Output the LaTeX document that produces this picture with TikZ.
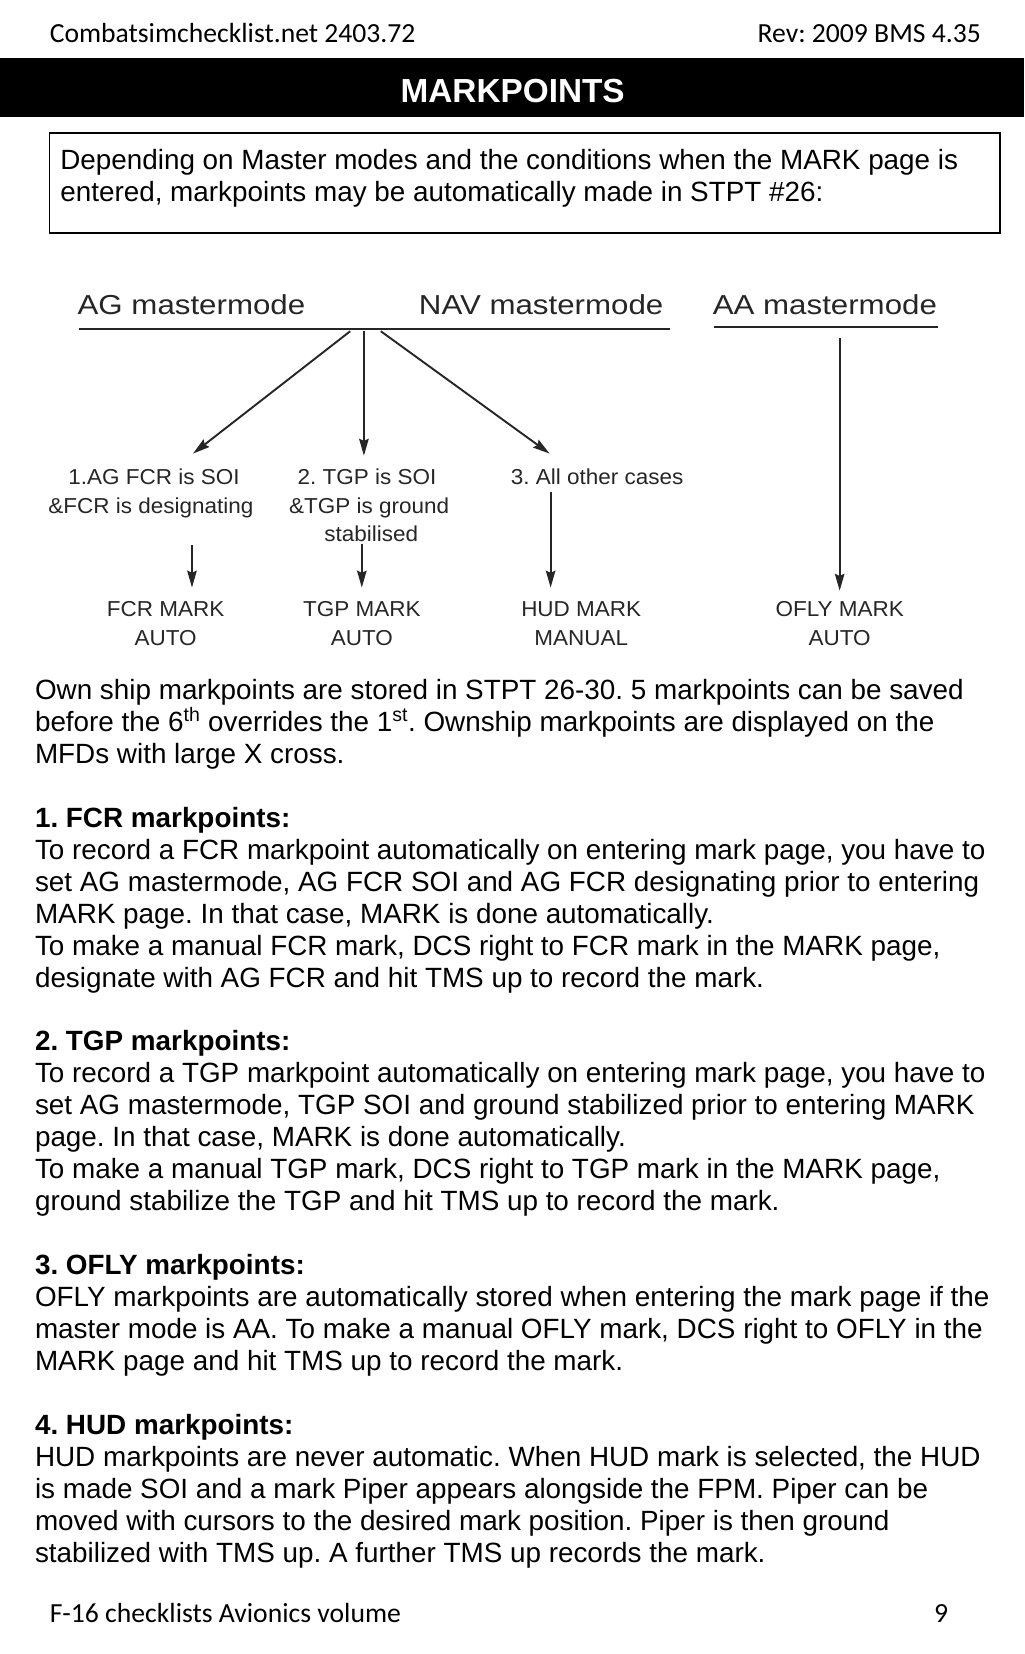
\documentclass[tikz,border=0pt]{standalone}
\usepackage{fontspec}
\setmainfont{Liberation Sans}
\newfontfamily\calfont{Carlito}
\newfontfamily\dgfont[FakeStretch=1.04]{Liberation Sans}
\newfontfamily\mmfont[FakeStretch=1.14]{Liberation Sans}
\usetikzlibrary{arrows.meta}
\definecolor{dgray}{HTML}{262626}
\frenchspacing
\begin{document}
\begin{tikzpicture}[x=1pt,y=-1pt,
  body/.style={anchor=base west, inner sep=0pt, font=\fontsize{26.4}{30}\selectfont},
  hd/.style={inner sep=0pt, font=\calfont\fontsize{26.2}{28}\selectfont},
  dg/.style={anchor=base, inner sep=0pt, text=dgray, font=\dgfont\fontsize{20.5}{26}\selectfont},
  mm/.style={anchor=base, inner sep=0pt, text=dgray, font=\mmfont\fontsize{26}{30}\selectfont},
  arr/.style={draw=dgray, line width=1.8pt, -{Stealth[length=16pt,width=9pt,inset=2pt]}},
  uline/.style={draw=dgray, line width=2.6pt}]
\useasboundingbox (0,0) rectangle (971,1568);
\fill[white] (0,0) rectangle (971,1568);

% header
\node[hd, anchor=base west] (hl) at (47,40) {Combatsimchecklist.net 2403.72};
\node[hd, anchor=base east] (hr) at (930,40) {Rev: 2009 BMS 4.35};
\fill[black] (0,55) rectangle (971,111);
\node[anchor=base, inner sep=0pt, text=white, font=\bfseries\fontsize{31.6}{32}\selectfont] (title) at (486,97) {MARKPOINTS};

% intro box
\draw[line width=1.5pt] (47,126) rectangle (948,221);
\node[body] (b1) at (57,161) {Depending on Master modes and the conditions when the MARK page is};
\node[body] (b2) at (57,191) {entered, markpoints may be automatically made in STPT \#26:};

% diagram
\node[mm] (ag) at (181.5,298) {AG mastermode};
\node[mm] (nav) at (513,298) {NAV mastermode};
\node[mm] (aa) at (782,298) {AA mastermode};
\coordinate (u1a) at (75,312);
\coordinate (u1b) at (635,312);
\coordinate (u2a) at (677,310);
\coordinate (u2b) at (889,310);
\draw[uline] (u1a) -- (u1b);
\draw[uline] (u2a) -- (u2b);

\coordinate (h1) at (332,314);
\coordinate (h2) at (345,314);
\coordinate (h3) at (361,314);
\coordinate (h4) at (796,320);
\coordinate (t1) at (183,430);
\coordinate (t2) at (345,432);
\coordinate (t3) at (521,430);
\coordinate (t4) at (796,560);

\node[dg] (c1a) at (146,459) {1.AG FCR is SOI};
\node[dg] (c1b) at (143,486.5) {\&FCR is designating};
\node[dg] (c2a) at (348,459) {2. TGP is SOI};
\node[dg] (c2b) at (350,486.5) {\&TGP is ground};
\node[dg] (c2c) at (352,513.5) {stabilised};
\node[dg] (c3a) at (566,459) {3. All other cases};

\coordinate (s1) at (182,517);
\coordinate (e1) at (182,557);
\coordinate (s2) at (343,516);
\coordinate (e2) at (343,557);
\coordinate (s3) at (522,466);
\coordinate (e3) at (522,557);

\node[dg] (m1) at (157,584) {FCR MARK};
\node[dg] (a1) at (157,612) {AUTO};
\node[dg] (m2) at (343,584) {TGP MARK};
\node[dg] (a2) at (343,612) {AUTO};
\node[dg] (m3) at (551,584) {HUD MARK};
\node[dg] (a3) at (551,612) {MANUAL};
\node[dg] (m4) at (796,584) {OFLY MARK};
\node[dg] (a4) at (796,612) {AUTO};

\draw[arr] (h1) -- (t1);
\draw[arr] (h2) -- (t2);
\draw[arr] (h3) -- (t3);
\draw[arr] (h4) -- (t4);
\draw[arr] (s1) -- (e1);
\draw[arr] (s2) -- (e2);
\draw[arr] (s3) -- (e3);

% body text
\node[body] (l0) at (33,663.0) {Own ship markpoints are stored in STPT 26-30. 5 markpoints can be saved};
\node[body] (l1) at (33,693.3) {before the 6\textsuperscript{th} overrides the 1\textsuperscript{st}. Ownship markpoints are displayed on the};
\node[body] (l2) at (33,723.6) {MFDs with large X cross.};
\node[body] (l4) at (33,784.2) {\bfseries 1. FCR markpoints:};
\node[body] (l5) at (33,814.5) {To record a FCR markpoint automatically on entering mark page, you have to};
\node[body] (l6) at (33,844.8) {set AG mastermode, AG FCR SOI and AG FCR designating prior to entering};
\node[body] (l7) at (33,875.1) {MARK page. In that case, MARK is done automatically.};
\node[body] (l8) at (33,905.4) {To make a manual FCR mark, DCS right to FCR mark in the MARK page,};
\node[body] (l9) at (33,935.7) {designate with AG FCR and hit TMS up to record the mark.};
\node[body] (l11) at (33,996.3) {\bfseries 2. TGP markpoints:};
\node[body] (l12) at (33,1026.6) {To record a TGP markpoint automatically on entering mark page, you have to};
\node[body] (l13) at (33,1056.9) {set AG mastermode, TGP SOI and ground stabilized prior to entering MARK};
\node[body] (l14) at (33,1087.2) {page. In that case, MARK is done automatically.};
\node[body] (l15) at (33,1117.5) {To make a manual TGP mark, DCS right to TGP mark in the MARK page,};
\node[body] (l16) at (33,1147.8) {ground stabilize the TGP and hit TMS up to record the mark.};
\node[body] (l18) at (33,1208.4) {\bfseries 3. OFLY markpoints:};
\node[body] (l19) at (33,1238.7) {OFLY markpoints are automatically stored when entering the mark page if the};
\node[body] (l20) at (33,1269.0) {master mode is AA. To make a manual OFLY mark, DCS right to OFLY in the};
\node[body] (l21) at (33,1299.3) {MARK page and hit TMS up to record the mark.};
\node[body] (l23) at (33,1359.9) {\bfseries 4. HUD markpoints:};
\node[body] (l24) at (33,1390.2) {HUD markpoints are never automatic. When HUD mark is selected, the HUD};
\node[body] (l25) at (33,1420.5) {is made SOI and a mark Piper appears alongside the FPM. Piper can be};
\node[body] (l26) at (33,1450.8) {moved with cursors to the desired mark position. Piper is then ground};
\node[body] (l27) at (33,1481.1) {stabilized with TMS up. A further TMS up records the mark.};

% footer
\node[hd, anchor=base west] (fl) at (47,1538) {F-16 checklists Avionics volume};
\node[hd, anchor=base east] (fr) at (899,1538) {9};
\end{tikzpicture}
\end{document}
